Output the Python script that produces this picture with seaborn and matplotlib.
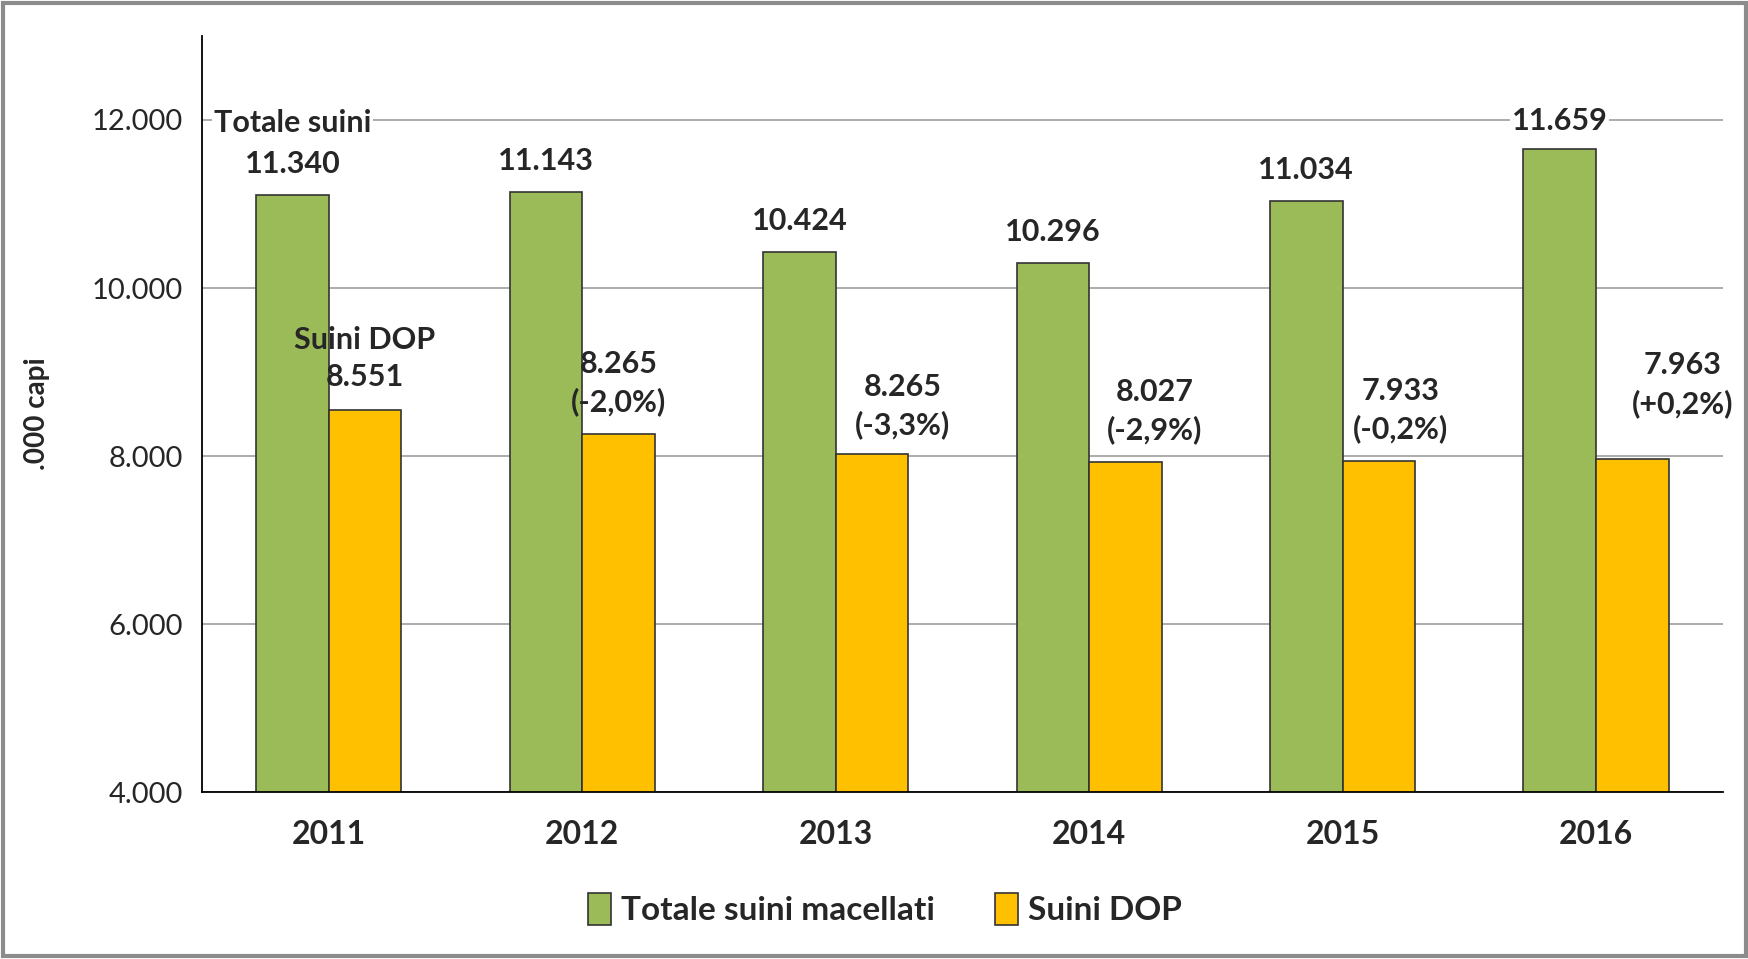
import numpy as np
import pandas as pd
import matplotlib
matplotlib.use("Agg")
import matplotlib.pyplot as plt
import seaborn as sns
from matplotlib.patches import Rectangle, Patch

# === dati ===
anni = ["2011", "2012", "2013", "2014", "2015", "2016"]
totale_suini = [11110, 11143, 10424, 10296, 11034, 11659]   # altezza barre
suini_dop = [8551, 8265, 8027, 7933, 7940, 7963]
etichette_totale = ["11.340", "11.143", "10.424", "10.296", "11.034", "11.659"]
etichette_dop = ["8.551", "8.265", "8.265", "8.027", "7.933", "7.963"]
variazioni_dop = ["", "(-2,0%)", "(-3,3%)", "(-2,9%)", "(-0,2%)", "(+0,2%)"]
serie = ["Totale suini macellati", "Suini DOP"]
colori = ["#9BBB59", "#FFC000"]

df = pd.DataFrame({
    "anno": anni * 2,
    "valore": totale_suini + suini_dop,
    "serie": [serie[0]] * len(anni) + [serie[1]] * len(anni),
})

# === stile ===
sns.set_style("white")
plt.rcParams["font.family"] = ["Lato", "DejaVu Sans"]

fig = plt.figure(figsize=(17.49, 9.59), dpi=100)
ax = fig.add_axes([0.1155, 0.174, 0.8695, 0.7885])

sns.barplot(data=df, x="anno", y="valore", hue="serie", palette=colori,
            width=0.573, edgecolor="#333333", linewidth=1.2, ax=ax,
            legend=False, saturation=1)

ax.set_ylim(4000, 13000)
ax.set_xlim(-0.5, 5.5)
ax.set_yticks([4000, 6000, 8000, 10000, 12000])
ax.set_yticklabels(["4.000", "6.000", "8.000", "10.000", "12.000"], fontsize=21)
ax.yaxis.grid(True, color="#A6A6A6", linewidth=1.3)
ax.set_axisbelow(True)

# assi
for s in ["top", "right"]:
    ax.spines[s].set_visible(False)
ax.spines["left"].set_color("black")
ax.spines["bottom"].set_color("black")
ax.spines["left"].set_linewidth(1.3)
ax.spines["bottom"].set_linewidth(1.3)
ax.tick_params(axis="y", direction="out", length=8, width=1.3, color="black", pad=6)
ax.set_xticks(range(len(anni)))
ax.set_xticklabels(anni, fontsize=23, fontweight="bold")
ax.set_xticks(np.arange(-0.5, 6, 1), minor=True)
ax.tick_params(axis="x", which="major", length=0, pad=20)
ax.tick_params(axis="x", which="minor", direction="out", length=10, width=1.3, color="black")

ax.set_xlabel("")
ax.set_ylabel(".000 capi", fontsize=20, fontweight="bold", labelpad=30)

# === etichette ===
w = 0.573 / 2
fs = 22
bbox_bianco = dict(facecolor="white", edgecolor="none", pad=1)
off_verde = [370, 370, 370, 370, 370, 330]
off_dop = [385, 385, 345, 385, 385, 665]
dx_dop = [0, 0, 0.12, 0.115, 0.084, 0.2]
riga = 450

for i in range(len(anni)):
    xg = i - w / 2
    yg = totale_suini[i] + off_verde[i]
    ax.text(xg, yg, etichette_totale[i], ha="center", va="center",
            fontsize=fs, fontweight="bold", bbox=bbox_bianco)
    if i == 0:
        ax.text(xg, yg + riga + 40, "Totale suini", ha="center", va="center",
                fontsize=fs, fontweight="bold", bbox=bbox_bianco)

    xo = i + w / 2 + dx_dop[i]
    yo = suini_dop[i] + off_dop[i]
    if i == 0:
        ax.text(xo, yo, etichette_dop[i], ha="center", va="center",
                fontsize=fs, fontweight="bold")
        ax.text(xo, yo + riga, "Suini DOP", ha="center", va="center",
                fontsize=fs, fontweight="bold")
    else:
        ax.text(xo, yo, variazioni_dop[i], ha="center", va="center",
                fontsize=fs, fontweight="bold")
        ax.text(xo, yo + riga, etichette_dop[i], ha="center", va="center",
                fontsize=fs, fontweight="bold")

# === legenda ===
handles = [Patch(facecolor=c, edgecolor="#333333", linewidth=1.2) for c in colori]
fig.legend(handles, serie, loc="center", bbox_to_anchor=(0.506, 0.052),
           ncol=2, frameon=False, handlelength=0.7, handleheight=1.1,
           handletextpad=0.3, columnspacing=1.8,
           prop={"size": 24, "weight": "bold"})

# cornice esterna
fig.patches.append(Rectangle((0.002, 0.003), 0.996, 0.994, transform=fig.transFigure,
                             fill=False, edgecolor="#8C8C8C", linewidth=3))

fig.savefig("out.png", dpi=100)
